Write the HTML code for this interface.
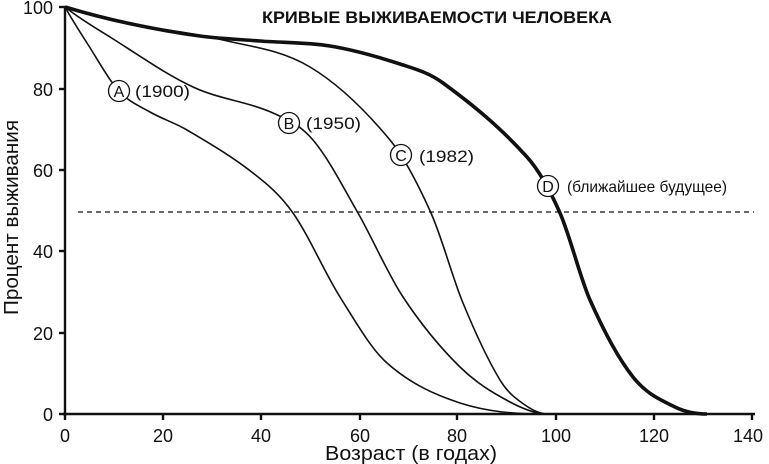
<!DOCTYPE html>
<html><head><meta charset="utf-8"><style>body{margin:0;background:#fff}svg{display:block}</style></head>
<body>
<svg id="s" width="769" height="464" viewBox="0 0 769 464" font-family="'Liberation Sans', sans-serif" fill="none" stroke="#111">
<text x="437" y="23" font-size="17" font-weight="bold" fill="#111" stroke="none" text-anchor="middle" textLength="350" lengthAdjust="spacingAndGlyphs">КРИВЫЕ ВЫЖИВАЕМОСТИ ЧЕЛОВЕКА</text>
<line x1="78" y1="212" x2="754" y2="212" stroke-width="1.2" stroke-dasharray="5,4"/>
<g stroke-width="2.4">
<line x1="65" y1="6" x2="65" y2="416"/>
<line x1="63" y1="414" x2="755" y2="414"/>
<line x1="59" y1="7" x2="65" y2="7"/><line x1="59" y1="89" x2="65" y2="89"/><line x1="59" y1="170" x2="65" y2="170"/><line x1="59" y1="251" x2="65" y2="251"/><line x1="59" y1="333" x2="65" y2="333"/><line x1="59" y1="414" x2="65" y2="414"/>
<line x1="65" y1="414" x2="65" y2="420"/><line x1="163" y1="414" x2="163" y2="420"/><line x1="261" y1="414" x2="261" y2="420"/><line x1="360" y1="414" x2="360" y2="420"/><line x1="457" y1="414" x2="457" y2="420"/><line x1="556" y1="414" x2="556" y2="420"/><line x1="654" y1="414" x2="654" y2="420"/><line x1="752" y1="414" x2="752" y2="420"/>
</g>
<g fill="#111" stroke="none" font-size="18">
<g text-anchor="end"><text x="53" y="14">100</text><text x="53" y="96">80</text><text x="53" y="177">60</text><text x="53" y="258">40</text><text x="53" y="340">20</text><text x="53" y="421">0</text></g>
<g text-anchor="middle"><text x="65" y="442">0</text><text x="163" y="442">20</text><text x="261" y="442">40</text><text x="360" y="442">60</text><text x="457" y="442">80</text><text x="556" y="442">100</text><text x="654" y="442">120</text><text x="748" y="442">140</text></g>
<text x="325" y="460" font-size="20" textLength="172" lengthAdjust="spacingAndGlyphs">Возраст (в годах)</text>
<text transform="translate(18,315) rotate(-90)" font-size="20" textLength="195" lengthAdjust="spacingAndGlyphs">Процент выживания</text>
</g>
<path id="pa" stroke-width="1.6"/>
<path id="pb" stroke-width="1.6"/>
<path id="pc" stroke-width="1.6"/>
<path id="pd" stroke-width="3.6"/>
<g fill="#fff" stroke-width="1.3">
<circle cx="119" cy="91" r="10.5"/><circle cx="289" cy="123" r="10.5"/><circle cx="401" cy="155" r="10.5"/><circle cx="548" cy="186" r="10.5"/>
</g>
<g fill="#111" stroke="none" font-size="16">
<g text-anchor="middle"><text x="119" y="97">A</text><text x="289" y="129">B</text><text x="401" y="161">C</text><text x="548" y="192">D</text></g>
<text x="135" y="97" font-size="17" textLength="55" lengthAdjust="spacingAndGlyphs">(1900)</text><text x="306" y="129" font-size="17" textLength="55" lengthAdjust="spacingAndGlyphs">(1950)</text><text x="419" y="162" font-size="17" textLength="55" lengthAdjust="spacingAndGlyphs">(1982)</text><text x="567" y="192" font-size="16" textLength="160" lengthAdjust="spacingAndGlyphs">(ближайшее будущее)</text>
</g>
</svg>
<script>
function sm(p,m0){var n=p.length,m=[],i;
m[0]=m0;m[n-1]=0;
for(i=1;i<n-1;i++)m[i]=(p[i+1][1]-p[i-1][1])/(p[i+1][0]-p[i-1][0]);
var s="M"+p[0][0]+","+p[0][1];
for(i=0;i<n-1;i++){var h=(p[i+1][0]-p[i][0])/3;
s+=" C"+(p[i][0]+h).toFixed(1)+","+Math.min(414,p[i][1]+m[i]*h).toFixed(1)+" "+(p[i+1][0]-h).toFixed(1)+","+Math.min(414,p[i+1][1]-m[i+1]*h).toFixed(1)+" "+p[i+1][0]+","+p[i+1][1];}
return s;}
var A=[[65,7],[87,43],[119,91],[150,112],[187,130],[253,173],[293,213],[340,297],[387,363],[460,403],[543,414]];
var B=[[65,7],[110,37],[193,87],[273,113],[313,140],[358,213],[403,297],[460,367],[510,402],[548,414]];
var C=[[65,7],[127,23],[223,40],[310,67],[390,140],[431,213],[463,303],[500,380],[525,405],[548,414]];
var D=[[65,7],[127,23],[200,36],[260,41],[330,46],[400,64],[443,83],[527,157],[560,213],[590,300],[633,377],[675,407],[707,414]];
document.getElementById("pa").setAttribute("d",sm(A,1.8));
document.getElementById("pb").setAttribute("d",sm(B,0.8));
document.getElementById("pc").setAttribute("d",sm(C,0.35));
document.getElementById("pd").setAttribute("d",sm(D,0.3));
</script>
</body></html>
